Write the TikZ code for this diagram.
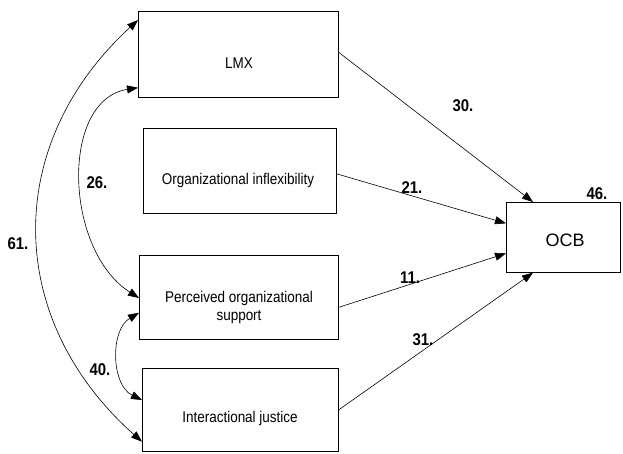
\documentclass[tikz,border=0pt]{standalone}
\usepackage{fontspec}
\setmainfont{Liberation Sans}
\newfontfamily\boxfont[FakeStretch=0.87]{Liberation Sans}
\newfontfamily\coeffont[FakeStretch=0.88]{Liberation Sans}
\usetikzlibrary{arrows.meta}
\begin{document}
\begin{tikzpicture}[x=1pt,y=-1pt,
  box/.style={draw,line width=0.7pt,inner sep=0pt,anchor=north west},
  boxtext/.style={font=\boxfont\fontsize{15.5}{18}\selectfont,align=center},
  coef/.style={font=\coeffont\bfseries\fontsize{17}{19}\selectfont},
  conn/.style={line width=0.6pt,-{Triangle[length=11pt,width=8pt]}},
  both/.style={line width=0.6pt,{Triangle[length=11pt,width=8pt]}-{Triangle[length=11pt,width=8pt]}}]
\useasboundingbox (0,0) rectangle (623,453);
\node[box,minimum width=200pt,minimum height=86pt] (lmx) at (138,11) {};
\node[box,minimum width=193pt,minimum height=85pt] (org) at (143,128) {};
\node[box,minimum width=199pt,minimum height=84pt] (pos) at (139,255) {};
\node[box,minimum width=196pt,minimum height=83pt] (ij) at (142,368) {};
\node[box,minimum width=114pt,minimum height=70pt] (ocb) at (506,202) {};
\node[boxtext] (tlmx) at (239,63) {LMX};
\node[boxtext] (torg) at (238,180) {Organizational inflexibility};
\node[boxtext] (tpos) at (239,307) {Perceived organizational\\support};
\node[boxtext] (tij) at (240,418) {Interactional justice};
\node[font=\fontsize{18}{20}\selectfont] (tocb) at (565,240) {OCB};
\draw[conn] ([yshift=2pt]lmx.east) -- ([xshift=27pt]ocb.north west);
\draw[conn] ([yshift=-3pt]org.east) -- ([yshift=14pt]ocb.west);
\draw[conn] ([yshift=-10pt]pos.east) -- ([yshift=-16pt]ocb.west);
\draw[conn] (ij.east) -- ([xshift=27pt]ocb.south west);
\draw[both] ([yshift=-9pt]lmx.north west) .. controls (2,145) and (5,320) .. ([yshift=10pt]ij.south west);
\draw[both] ([yshift=10pt]lmx.south west) .. controls (60,100) and (64,250) .. ([yshift=-43pt]pos.north west);
\draw[both] ([yshift=27pt]pos.south west) .. controls (110,330) and (111,385) .. ([yshift=-32pt]ij.north west);
\node[coef] (c61) at (18,244) {61.};
\node[coef] (c26) at (97,183) {26.};
\node[coef] (c40) at (100,370) {40.};
\node[coef] (c30) at (463,106) {30.};
\node[coef] (c21) at (412,188) {21.};
\node[coef] (c11) at (410,278) {11.};
\node[coef] (c31) at (423,340) {31.};
\node[coef] (c46) at (597,194) {46.};
\end{tikzpicture}
\end{document}
